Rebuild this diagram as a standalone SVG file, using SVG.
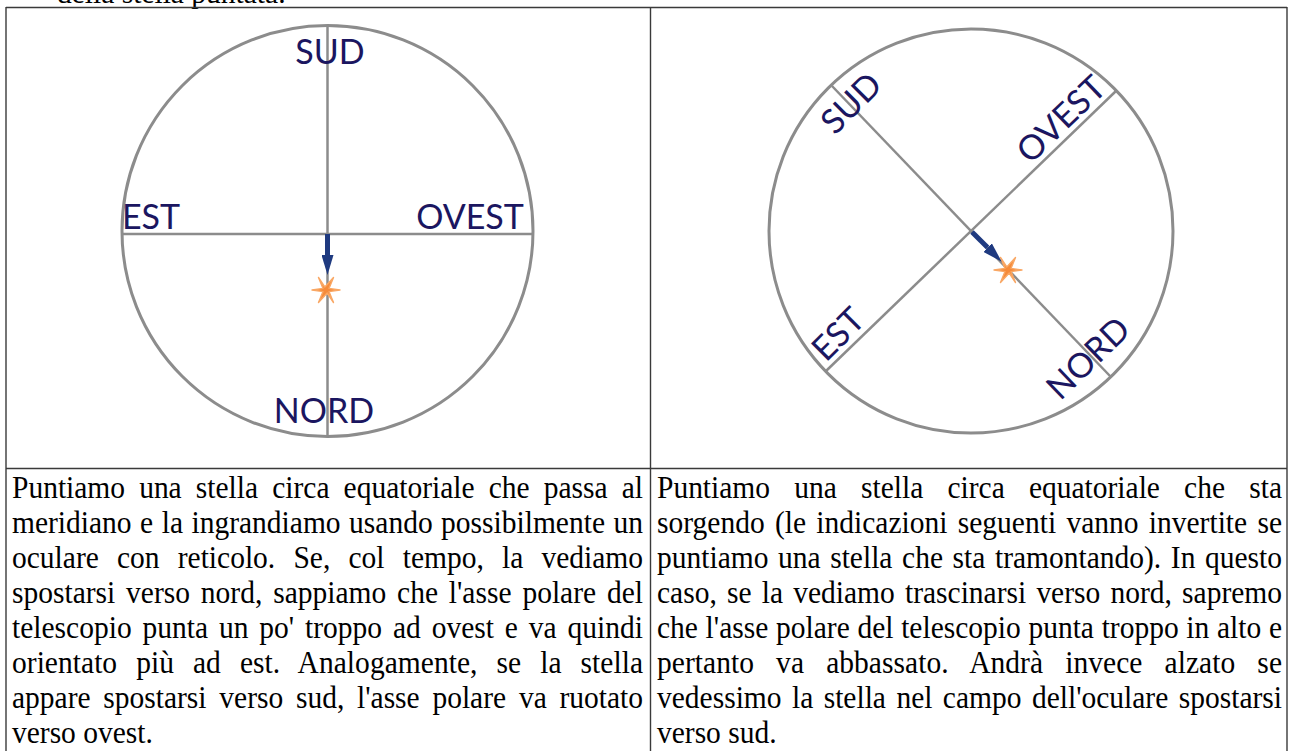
<svg xmlns="http://www.w3.org/2000/svg" width="1292" height="751" viewBox="0 0 1292 751">
<style>
.grid{stroke:#3a3a3a;stroke-width:1.4;fill:none}
.ring{stroke:#8c8c8c;stroke-width:3;fill:none}
.axis{stroke:#8c8c8c;stroke-width:2.5}
.lbl{font-family:Lato,"Open Sans",sans-serif;font-size:34px;fill:#1b1660;text-anchor:middle}
.body{font-family:"Liberation Serif","Times New Roman",serif;font-size:29.5px;fill:#000}
.arrow{stroke:#1f3a80;stroke-width:5;fill:none}
</style>
<defs>
<marker id="ah" markerWidth="20" markerHeight="12" refX="0" refY="6" orient="auto" markerUnits="userSpaceOnUse">
<path d="M0,0 L20,6 L0,12 Z" fill="#1f3a80"/>
</marker>
<g id="star">
<polygon points="14,0 3,1.6 7.5,12.5 1.2,3 -7.5,12.5 -3,1.6 -14,0 -3,-1.6 -7.5,-12.5 -1.2,-3 7.5,-12.5 3,-1.6" fill="#f68b3a" stroke="#f9a764" stroke-width="1.4" stroke-linejoin="round"/>
</g>
</defs>

<text class="body" x="57" y="3">della stella puntata.</text>

<g id="table">
<line class="grid" x1="6" y1="7.5" x2="1287" y2="7.5"/>
<line class="grid" x1="6" y1="7" x2="6" y2="751"/>
<line class="grid" x1="1287" y1="7" x2="1287" y2="751"/>
<line class="grid" x1="650.5" y1="7" x2="650.5" y2="751"/>
<line class="grid" x1="6" y1="468.5" x2="1287" y2="468.5"/>
</g>

<g id="left-eyepiece">
<circle class="ring" cx="327.5" cy="231" r="205.5"/>
<line class="axis" x1="327.5" y1="26" x2="327.5" y2="436"/>
<line class="axis" x1="122" y1="234" x2="533" y2="234"/>
<text class="lbl" x="330" y="64">SUD</text>
<text class="lbl" x="151" y="229">EST</text>
<text class="lbl" x="470" y="229">OVEST</text>
<text class="lbl" x="324" y="423">NORD</text>
</g>

<g id="left-star"><use href="#star" x="326" y="290"/></g>

<g id="right-eyepiece">
<circle class="ring" cx="971" cy="231" r="202"/>
<line class="axis" x1="832" y1="86" x2="1110" y2="376"/>
<line class="axis" x1="1116" y1="91" x2="826" y2="371"/>
<text class="lbl" transform="translate(851,103) rotate(-45)" y="12">SUD</text>
<text class="lbl" transform="translate(1061,119) rotate(-44)" y="12">OVEST</text>
<text class="lbl" transform="translate(838,334) rotate(-45)" y="12">EST</text>
<text class="lbl" transform="translate(1088,358) rotate(-44)" y="12">NORD</text>
</g>

<g id="right-star"><use href="#star" x="1008" y="270"/></g>

<g id="connectors">
<line class="arrow" x1="327.5" y1="234" x2="327.5" y2="255" marker-end="url(#ah)"/>
<line class="arrow" x1="972" y1="232" x2="987.6" y2="247.6" marker-end="url(#ah)"/>
</g>

<g id="text-left" transform="matrix(1 0 0 1.07 0 -34.86)">
<text class="body" x="12" y="498" textLength="631" lengthAdjust="spacing" word-spacing="6.7">Puntiamo una stella circa equatoriale che passa al</text>
<text class="body" x="12" y="530.71" textLength="631" lengthAdjust="spacing" word-spacing="1.1">meridiano e la ingrandiamo usando possibilmente un</text>
<text class="body" x="12" y="563.42" textLength="631" lengthAdjust="spacing" word-spacing="10.8">oculare con reticolo. Se, col tempo, la vediamo</text>
<text class="body" x="12" y="596.13" textLength="631" lengthAdjust="spacing" word-spacing="3.5">spostarsi verso nord, sappiamo che l'asse polare del</text>
<text class="body" x="12" y="628.85" textLength="631" lengthAdjust="spacing" word-spacing="3.5">telescopio punta un po' troppo ad ovest e va quindi</text>
<text class="body" x="12" y="661.56" textLength="631" lengthAdjust="spacing" word-spacing="11.6">orientato più ad est. Analogamente, se la stella</text>
<text class="body" x="12" y="694.27" textLength="631" lengthAdjust="spacing" word-spacing="5.4">appare spostarsi verso sud, l'asse polare va ruotato</text>
<text class="body" x="12" y="726.98">verso ovest.</text>
</g>

<g id="text-right" transform="matrix(1 0 0 1.07 0 -34.86)">
<text class="body" x="657" y="498" textLength="625" lengthAdjust="spacing" word-spacing="16.8">Puntiamo una stella circa equatoriale che sta</text>
<text class="body" x="657" y="530.71" textLength="625" lengthAdjust="spacing" word-spacing="2.85">sorgendo (le indicazioni seguenti vanno invertite se</text>
<text class="body" x="657" y="563.42" textLength="625" lengthAdjust="spacing" word-spacing="2.2">puntiamo una stella che sta tramontando). In questo</text>
<text class="body" x="657" y="596.13" textLength="625" lengthAdjust="spacing" word-spacing="2.8">caso, se la vediamo trascinarsi verso nord, sapremo</text>
<text class="body" x="657" y="628.85" textLength="625" lengthAdjust="spacing" word-spacing="0.3">che l'asse polare del telescopio punta troppo in alto e</text>
<text class="body" x="657" y="661.56" textLength="625" lengthAdjust="spacing" word-spacing="14.7">pertanto va abbassato. Andrà invece alzato se</text>
<text class="body" x="657" y="694.27" textLength="625" lengthAdjust="spacing" word-spacing="3.05">vedessimo la stella nel campo dell'oculare spostarsi</text>
<text class="body" x="657" y="726.98">verso sud.</text>
</g>
</svg>
